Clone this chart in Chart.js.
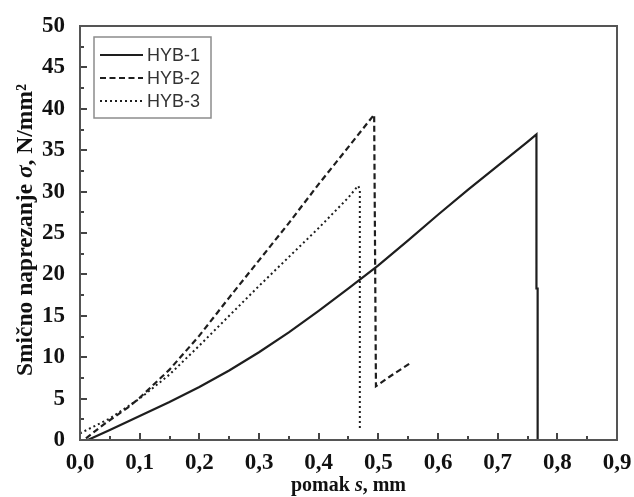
<!DOCTYPE html>
<html>
<head>
<meta charset="utf-8">
<script src="https://cdn.jsdelivr.net/npm/chart.js@4.4.0/dist/chart.umd.min.js"></script>
<style>
  html, body { margin: 0; padding: 0; background: #fff; }
  #chart { display: block; }
</style>
</head>
<body>
<canvas id="chart" width="634" height="497"></canvas>
<script>
const seriesLabels = ["HYB-1", "HYB-2", "HYB-3"];

// HYB-1 (puna linija)
const hyb1X = [0.013, 0.05, 0.1, 0.15, 0.2, 0.25, 0.3, 0.35, 0.4, 0.45, 0.5, 0.55, 0.6, 0.65, 0.7, 0.75, 0.765, 0.765, 0.767, 0.767];
const hyb1Y = [0, 1.2, 2.9, 4.6, 6.4, 8.4, 10.6, 13.0, 15.6, 18.3, 21.1, 24.1, 27.2, 30.2, 33.1, 36.0, 36.9, 18.3, 18.3, 0];

// HYB-2 (crtkana linija)
const hyb2X = [0.01, 0.04, 0.08, 0.1, 0.15, 0.2, 0.25, 0.3, 0.35, 0.4, 0.45, 0.493, 0.496, 0.52, 0.556];
const hyb2Y = [0.2, 1.9, 3.9, 5.1, 8.5, 12.6, 17.2, 21.7, 26.2, 30.9, 35.4, 39.3, 6.5, 7.7, 9.4];

// HYB-3 (tockasta linija)
const hyb3X = [0, 0.05, 0.1, 0.15, 0.2, 0.25, 0.3, 0.35, 0.4, 0.45, 0.466, 0.469, 0.469];
const hyb3Y = [0.8, 2.6, 5.0, 7.9, 11.4, 15.0, 18.6, 22.1, 25.6, 29.3, 30.7, 30.3, 1.2];

const xTickLabels = ["0,0", "0,1", "0,2", "0,3", "0,4", "0,5", "0,6", "0,7", "0,8", "0,9"];
const yTickLabels = ["0", "5", "10", "15", "20", "25", "30", "35", "40", "45", "50"];

const serif = "'Liberation Serif', 'Times New Roman', serif";
const sans = "'Liberation Sans', Arial, sans-serif";

function toPoints(xs, ys) {
  return xs.map((x, i) => ({ x: x, y: ys[i] }));
}

// okvir, unutarnje crtice, legenda i naslovi osi
const decorations = {
  id: "decorations",
  afterDraw(chart) {
    const ctx = chart.ctx;
    const a = chart.chartArea;
    const xs = chart.scales.x;
    const ys = chart.scales.y;
    ctx.save();

    // crtice
    ctx.strokeStyle = "#444";
    ctx.lineWidth = 2;
    for (let v = 0; v <= 0.9001; v += 0.05) {
      const px = Math.round(xs.getPixelForValue(v));
      const major = Math.round(v * 100) % 10 === 0;
      ctx.beginPath();
      ctx.moveTo(px, a.bottom);
      ctx.lineTo(px, a.bottom - (major ? 7 : 4));
      ctx.stroke();
    }
    for (let v = 0; v <= 50; v += 2.5) {
      const py = Math.round(ys.getPixelForValue(v));
      const major = v % 5 === 0;
      ctx.beginPath();
      ctx.moveTo(a.left, py);
      ctx.lineTo(a.left + (major ? 7 : 4), py);
      ctx.stroke();
    }

    // okvir
    ctx.strokeStyle = "#555";
    ctx.lineWidth = 2;
    ctx.strokeRect(a.left, a.top, a.right - a.left, a.bottom - a.top);

    // legenda
    const lx = a.left + 14, ly = a.top + 11;
    ctx.fillStyle = "#fff";
    ctx.fillRect(lx, ly, 117, 81);
    ctx.strokeStyle = "#8c8c8c";
    ctx.lineWidth = 1.5;
    ctx.strokeRect(lx, ly, 117, 81);
    ctx.font = "18px " + sans;
    ctx.textBaseline = "middle";
    chart.data.datasets.forEach((ds, i) => {
      const y = ly + 18 + i * 23;
      ctx.beginPath();
      ctx.setLineDash(ds.borderDash || []);
      ctx.strokeStyle = ds.borderColor;
      ctx.lineWidth = ds.borderWidth;
      ctx.moveTo(lx + 6, y);
      ctx.lineTo(lx + 49, y);
      ctx.stroke();
      ctx.setLineDash([]);
      ctx.fillStyle = "#333";
      ctx.fillText(ds.label, lx + 53, y + 1);
    });

    // naslovi osi
    ctx.fillStyle = "#111";
    ctx.textBaseline = "alphabetic";
    drawParts(ctx, [["pomak ", false], ["s", true], [", mm", false]], (a.left + a.right) / 2, 491, 20);
    ctx.translate(32, 230);
    ctx.rotate(-Math.PI / 2);
    drawParts(ctx, [["Smično naprezanje ", false], ["σ", true], [", N/mm²", false]], 0, 0, 23.5);
    ctx.restore();
  }
};

function drawParts(ctx, parts, cx, y, size) {
  let total = 0;
  const widths = parts.map(p => {
    ctx.font = (p[1] ? "italic " : "") + "bold " + size + "px " + serif;
    const w = ctx.measureText(p[0]).width;
    total += w;
    return w;
  });
  let x = cx - total / 2;
  ctx.textAlign = "left";
  parts.forEach((p, i) => {
    ctx.font = (p[1] ? "italic " : "") + "bold " + size + "px " + serif;
    ctx.fillText(p[0], x, y);
    x += widths[i];
  });
}

const lineColor = "#1e1e1e";

const chart = new Chart(document.getElementById("chart"), {
  type: "line",
  data: {
    datasets: [
      {
        label: seriesLabels[0],
        data: toPoints(hyb1X, hyb1Y),
        borderColor: lineColor,
        borderWidth: 2.2,
      },
      {
        label: seriesLabels[1],
        data: toPoints(hyb2X, hyb2Y),
        borderColor: lineColor,
        borderWidth: 2.2,
        borderDash: [6, 3.5],
      },
      {
        label: seriesLabels[2],
        data: toPoints(hyb3X, hyb3Y),
        borderColor: lineColor,
        borderWidth: 2,
        borderDash: [2, 3],
      },
    ],
  },
  options: {
    responsive: false,
    animation: false,
    devicePixelRatio: 1,
    parsing: false,
    elements: { point: { radius: 0 }, line: { tension: 0, fill: false } },
    layout: { padding: { top: 26, right: 17, left: 0, bottom: 0 } },
    plugins: { legend: { display: false }, tooltip: { enabled: false } },
    scales: {
      x: {
        type: "linear",
        min: 0,
        max: 0.9,
        grid: { display: false },
        border: { display: false },
        afterFit: (s) => { s.height = 57; },
        ticks: {
          stepSize: 0.1,
          padding: 1,
          color: "#111",
          maxRotation: 0,
          font: { family: serif, size: 23, weight: "bold" },
          callback: (v, i) => xTickLabels[i],
        },
      },
      y: {
        min: 0,
        max: 50,
        grid: { display: false },
        border: { display: false },
        afterFit: (s) => { s.width = 80; },
        ticks: {
          stepSize: 5,
          padding: 7,
          color: "#111",
          font: { family: serif, size: 23, weight: "bold" },
          callback: (v, i) => yTickLabels[i],
        },
      },
    },
  },
  plugins: [decorations],
});
</script>
</body>
</html>
